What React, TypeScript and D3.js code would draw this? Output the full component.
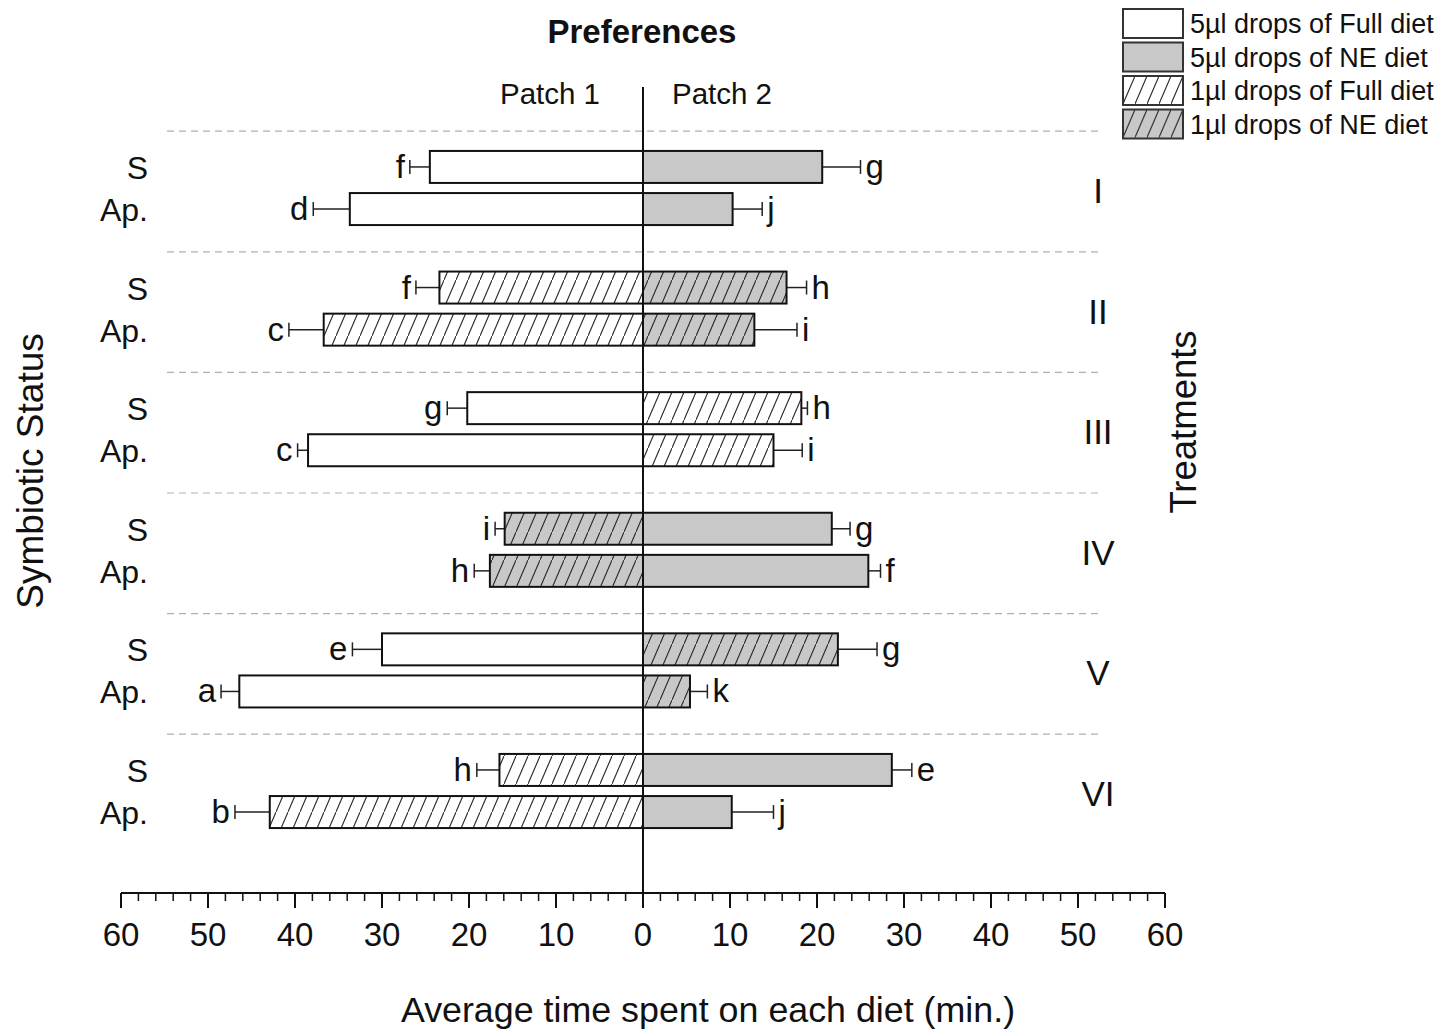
import React from "react";
import * as d3 from "d3";

// ---------- data ----------
const groups = ["I", "II", "III", "IV", "V", "VI"];
const statuses = ["S", "Ap."];

// diet type shown on each patch, per treatment
const patch1Type = ["full5", "full1", "full5", "ne1", "full5", "full1"];
const patch2Type = ["ne5", "ne1", "full1", "ne5", "ne1", "ne5"];

// values: [S, Ap.] for each treatment
const patch1Values = [
  [24.5, 33.7],
  [23.4, 36.7],
  [20.2, 38.5],
  [15.9, 17.6],
  [30.0, 46.4],
  [16.5, 42.9],
];
const patch1Err = [
  [2.3, 4.2],
  [2.7, 4.0],
  [2.3, 1.2],
  [1.1, 1.8],
  [3.4, 2.1],
  [2.6, 4.0],
];
const patch1Letters = [
  ["f", "d"],
  ["f", "c"],
  ["g", "c"],
  ["i", "h"],
  ["e", "a"],
  ["h", "b"],
];
const patch2Values = [
  [20.6, 10.3],
  [16.5, 12.8],
  [18.2, 15.0],
  [21.7, 25.9],
  [22.4, 5.4],
  [28.6, 10.2],
];
const patch2Err = [
  [4.4, 3.4],
  [2.3, 4.9],
  [0.7, 3.3],
  [2.1, 1.4],
  [4.5, 2.0],
  [2.3, 4.8],
];
const patch2Letters = [
  ["g", "j"],
  ["h", "i"],
  ["h", "i"],
  ["g", "f"],
  ["g", "k"],
  ["e", "j"],
];

const legendKeys = ["full5", "ne5", "full1", "ne1"];
const legendLabels = [
  "5µl drops of Full diet",
  "5µl drops of NE diet",
  "1µl drops of Full diet",
  "1µl drops of NE diet",
];

const majorTicks = [-60, -50, -40, -30, -20, -10, 0, 10, 20, 30, 40, 50, 60];

// ---------- styling ----------
const W = 1453;
const H = 1029;
const FONT = "'Liberation Sans', Arial, sans-serif";
const GRAY = "#c8c8c8";

const fillFor: Record<string, string> = {
  full5: "#ffffff",
  ne5: GRAY,
  full1: "url(#hatchWhite)",
  ne1: "url(#hatchGray)",
};

export default function App() {
  const x = d3.scaleLinear().domain([-60, 60]).range([121, 1165]);
  const yGroup = d3.scaleBand().domain(groups).range([127.7, 851.3]);
  const yStatus = d3.scaleBand().domain(statuses).range([-40, 40]).paddingInner(0.1);
  const barH = 32;
  const axisY = 893;
  const x0 = x(0);

  const minorTicks = d3.range(-60, 60.001, 2).filter((v) => Math.abs(v % 10) > 0.001);

  const bars: React.ReactNode[] = [];
  groups.forEach((g, gi) => {
    const gc = (yGroup(g) as number) + yGroup.bandwidth() / 2;
    statuses.forEach((s, si) => {
      const cy = gc + (yStatus(s) as number) + yStatus.bandwidth() / 2;
      // patch 1 (left)
      const v1 = patch1Values[gi][si];
      const e1 = patch1Err[gi][si];
      const xl = x(-v1);
      const xle = x(-(v1 + e1));
      bars.push(
        <g key={`p1-${g}-${s}`}>
          <line x1={xl} x2={xle} y1={cy} y2={cy} stroke="#222" strokeWidth={1.5} />
          <line x1={xle} x2={xle} y1={cy - 7} y2={cy + 7} stroke="#222" strokeWidth={1.5} />
          <rect
            x={xl}
            y={cy - barH / 2}
            width={x0 - xl}
            height={barH}
            fill={fillFor[patch1Type[gi]]}
            stroke="#111"
            strokeWidth={2}
          />
          <text
            x={xle - 5}
            y={cy + 11}
            textAnchor="end"
            fontSize={33}
            fontFamily={FONT}
            fill="#111"
          >
            {patch1Letters[gi][si]}
          </text>
        </g>
      );
      // patch 2 (right)
      const v2 = patch2Values[gi][si];
      const e2 = patch2Err[gi][si];
      const xr = x(v2);
      const xre = x(v2 + e2);
      bars.push(
        <g key={`p2-${g}-${s}`}>
          <line x1={xr} x2={xre} y1={cy} y2={cy} stroke="#222" strokeWidth={1.5} />
          <line x1={xre} x2={xre} y1={cy - 7} y2={cy + 7} stroke="#222" strokeWidth={1.5} />
          <rect
            x={x0}
            y={cy - barH / 2}
            width={xr - x0}
            height={barH}
            fill={fillFor[patch2Type[gi]]}
            stroke="#111"
            strokeWidth={2}
          />
          <text
            x={xre + 5}
            y={cy + 11}
            textAnchor="start"
            fontSize={33}
            fontFamily={FONT}
            fill="#111"
          >
            {patch2Letters[gi][si]}
          </text>
        </g>
      );
      // status label
      bars.push(
        <text
          key={`lab-${g}-${s}`}
          x={148}
          y={cy + 12}
          textAnchor="end"
          fontSize={32}
          fontFamily={FONT}
          fill="#111"
        >
          {s}
        </text>
      );
    });
  });

  return (
    <div style={{ position: "absolute", left: 0, top: 0 }}>
      <svg width={W} height={H} style={{ display: "block", background: "#fff" }}>
        <defs>
          <pattern id="hatchWhite" patternUnits="userSpaceOnUse" width={12} height={28}>
            <rect width={12} height={28} fill="#fff" />
            <line x1={0} y1={28} x2={12} y2={0} stroke="#2a2a2a" strokeWidth={1.1} strokeLinecap="square" />
          </pattern>
          <pattern id="hatchGray" patternUnits="userSpaceOnUse" width={12} height={28}>
            <rect width={12} height={28} fill={GRAY} />
            <line x1={0} y1={28} x2={12} y2={0} stroke="#2a2a2a" strokeWidth={1.1} strokeLinecap="square" />
          </pattern>
        </defs>

        {/* title and patch headers */}
        <text x={642} y={43} textAnchor="middle" fontSize={33} fontWeight="bold" fontFamily={FONT} fill="#111">
          Preferences
        </text>
        <text x={550} y={104} textAnchor="middle" fontSize={29.5} fontFamily={FONT} fill="#111">
          Patch 1
        </text>
        <text x={722} y={104} textAnchor="middle" fontSize={29.5} fontFamily={FONT} fill="#111">
          Patch 2
        </text>

        {/* dashed separators */}
        {groups.map((g) => (
          <line
            key={`sep-${g}`}
            x1={167}
            x2={1103}
            y1={(yGroup(g) as number) + 3.5}
            y2={(yGroup(g) as number) + 3.5}
            stroke="#b0b0b0"
            strokeWidth={1.2}
            strokeDasharray="7,5"
          />
        ))}

        {bars}

        {/* center line */}
        <line x1={x0} x2={x0} y1={87} y2={axisY} stroke="#111" strokeWidth={2} />

        {/* treatment labels */}
        {groups.map((g) => (
          <text
            key={`tr-${g}`}
            x={1098}
            y={(yGroup(g) as number) + yGroup.bandwidth() / 2 + 15}
            textAnchor="middle"
            fontSize={35}
            fontFamily={FONT}
            fill="#111"
          >
            {g}
          </text>
        ))}

        {/* x axis */}
        <line x1={x(-60)} x2={x(60)} y1={axisY} y2={axisY} stroke="#111" strokeWidth={2} />
        {minorTicks.map((t) => (
          <line key={`mt-${t}`} x1={x(t)} x2={x(t)} y1={axisY} y2={axisY + 8} stroke="#111" strokeWidth={1.5} />
        ))}
        {majorTicks.map((t) => (
          <g key={`Mt-${t}`}>
            <line x1={x(t)} x2={x(t)} y1={axisY} y2={axisY + 15} stroke="#111" strokeWidth={2} />
            <text x={x(t)} y={946} textAnchor="middle" fontSize={33} fontFamily={FONT} fill="#111">
              {Math.abs(t)}
            </text>
          </g>
        ))}

        {/* axis titles */}
        <text x={708} y={1022} textAnchor="middle" fontSize={35.8} fontFamily={FONT} fill="#111">
          Average time spent on each diet (min.)
        </text>
        <text
          transform={`translate(43,471) rotate(-90)`}
          textAnchor="middle"
          fontSize={37}
          fontFamily={FONT}
          fill="#111"
        >
          Symbiotic Status
        </text>
        <text
          transform={`translate(1196,422) rotate(-90)`}
          textAnchor="middle"
          fontSize={36.5}
          fontFamily={FONT}
          fill="#111"
        >
          Treatments
        </text>

        {/* legend */}
        {legendKeys.map((k, i) => (
          <g key={`lg-${k}`} transform={`translate(1123,${9 + i * 33.5})`}>
            <rect width={60} height={29} fill={fillFor[k]} stroke="#333" strokeWidth={2} />
            <text x={67} y={24} fontSize={27} fontFamily={FONT} fill="#111">
              {legendLabels[i]}
            </text>
          </g>
        ))}
      </svg>
    </div>
  );
}
